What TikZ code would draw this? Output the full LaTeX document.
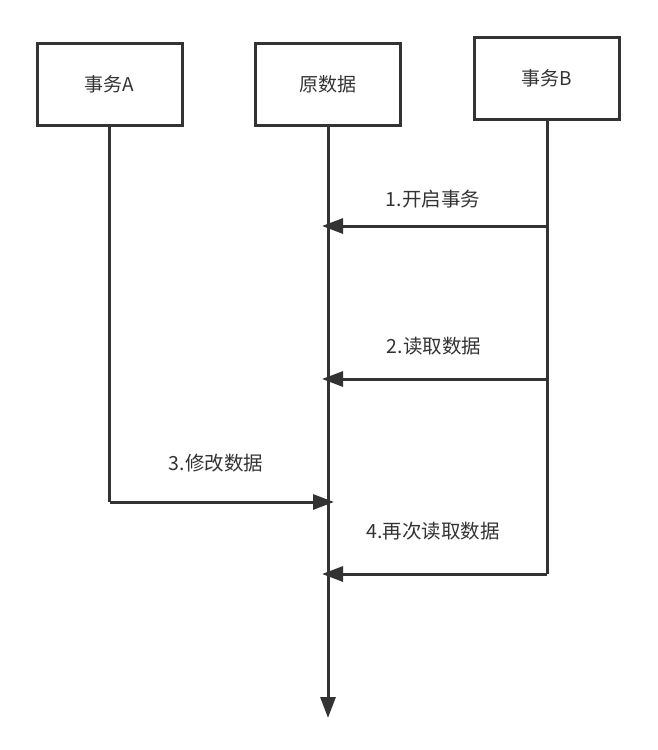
\documentclass[tikz,border=0pt]{standalone}
\usepackage{fontspec}
\newfontfamily\cjk{Noto Sans CJK SC}
\usetikzlibrary{arrows.meta}
\definecolor{inkgray}{HTML}{333333}
\tikzset{
  party/.style={draw=inkgray, line width=3pt, minimum width=145pt, minimum height=82pt,
    inner sep=0pt, text=inkgray, font=\cjk\fontsize{19}{21}\selectfont},
  lifeline/.style={draw=inkgray, line width=3pt},
  msg/.style={draw=inkgray, line width=3pt, shorten >=-6pt,
    -{Triangle[length=21pt,width=15pt]}},
  msglabel/.style={text=inkgray, font=\cjk\fontsize{19.5}{21}\selectfont}
}
\begin{document}
\begin{tikzpicture}[x=1pt,y=-1pt]
    \useasboundingbox (0,0) rectangle (657,750);

    % participants
    \node[party] (txa)  at (109.5,84) {事务A};
    \node[party] (data) at (328,84)   {原数据};
    \node[party] (txb)  at (547,78)   {事务B};

    % points on the lifelines
    \coordinate (a3) at (txa.south |- 0,502);
    \coordinate (d1) at (data.south |- 0,226);
    \coordinate (d2) at (data.south |- 0,379);
    \coordinate (d3) at (data.south |- 0,502);
    \coordinate (d4) at (data.south |- 0,574);
    \coordinate (dend) at (data.south |- 0,712);
    \coordinate (b1) at (txb.south |- 0,226);
    \coordinate (b2) at (txb.south |- 0,379);
    \coordinate (b4) at (txb.south |- 0,574);

    % lifelines
    \draw[lifeline] (txa.south) -- (a3);
    \draw[lifeline] (txb.south) -- (b4);
    \draw[msg] (data.south) -- (dend);

    % messages
    \draw[msg] (b1) -- (d1);
    \draw[msg] (b2) -- (d2);
    \draw[msg] (a3) -- (d3);
    \draw[msg] (b4) -- (d4);

    % labels
    \node[msglabel] (l1) at (433,199) {1.开启事务};
    \node[msglabel] (l2) at (434,346) {2.读取数据};
    \node[msglabel] (l3) at (216,463) {3.修改数据};
    \node[msglabel] (l4) at (433,531) {4.再次读取数据};
\end{tikzpicture}
\end{document}
